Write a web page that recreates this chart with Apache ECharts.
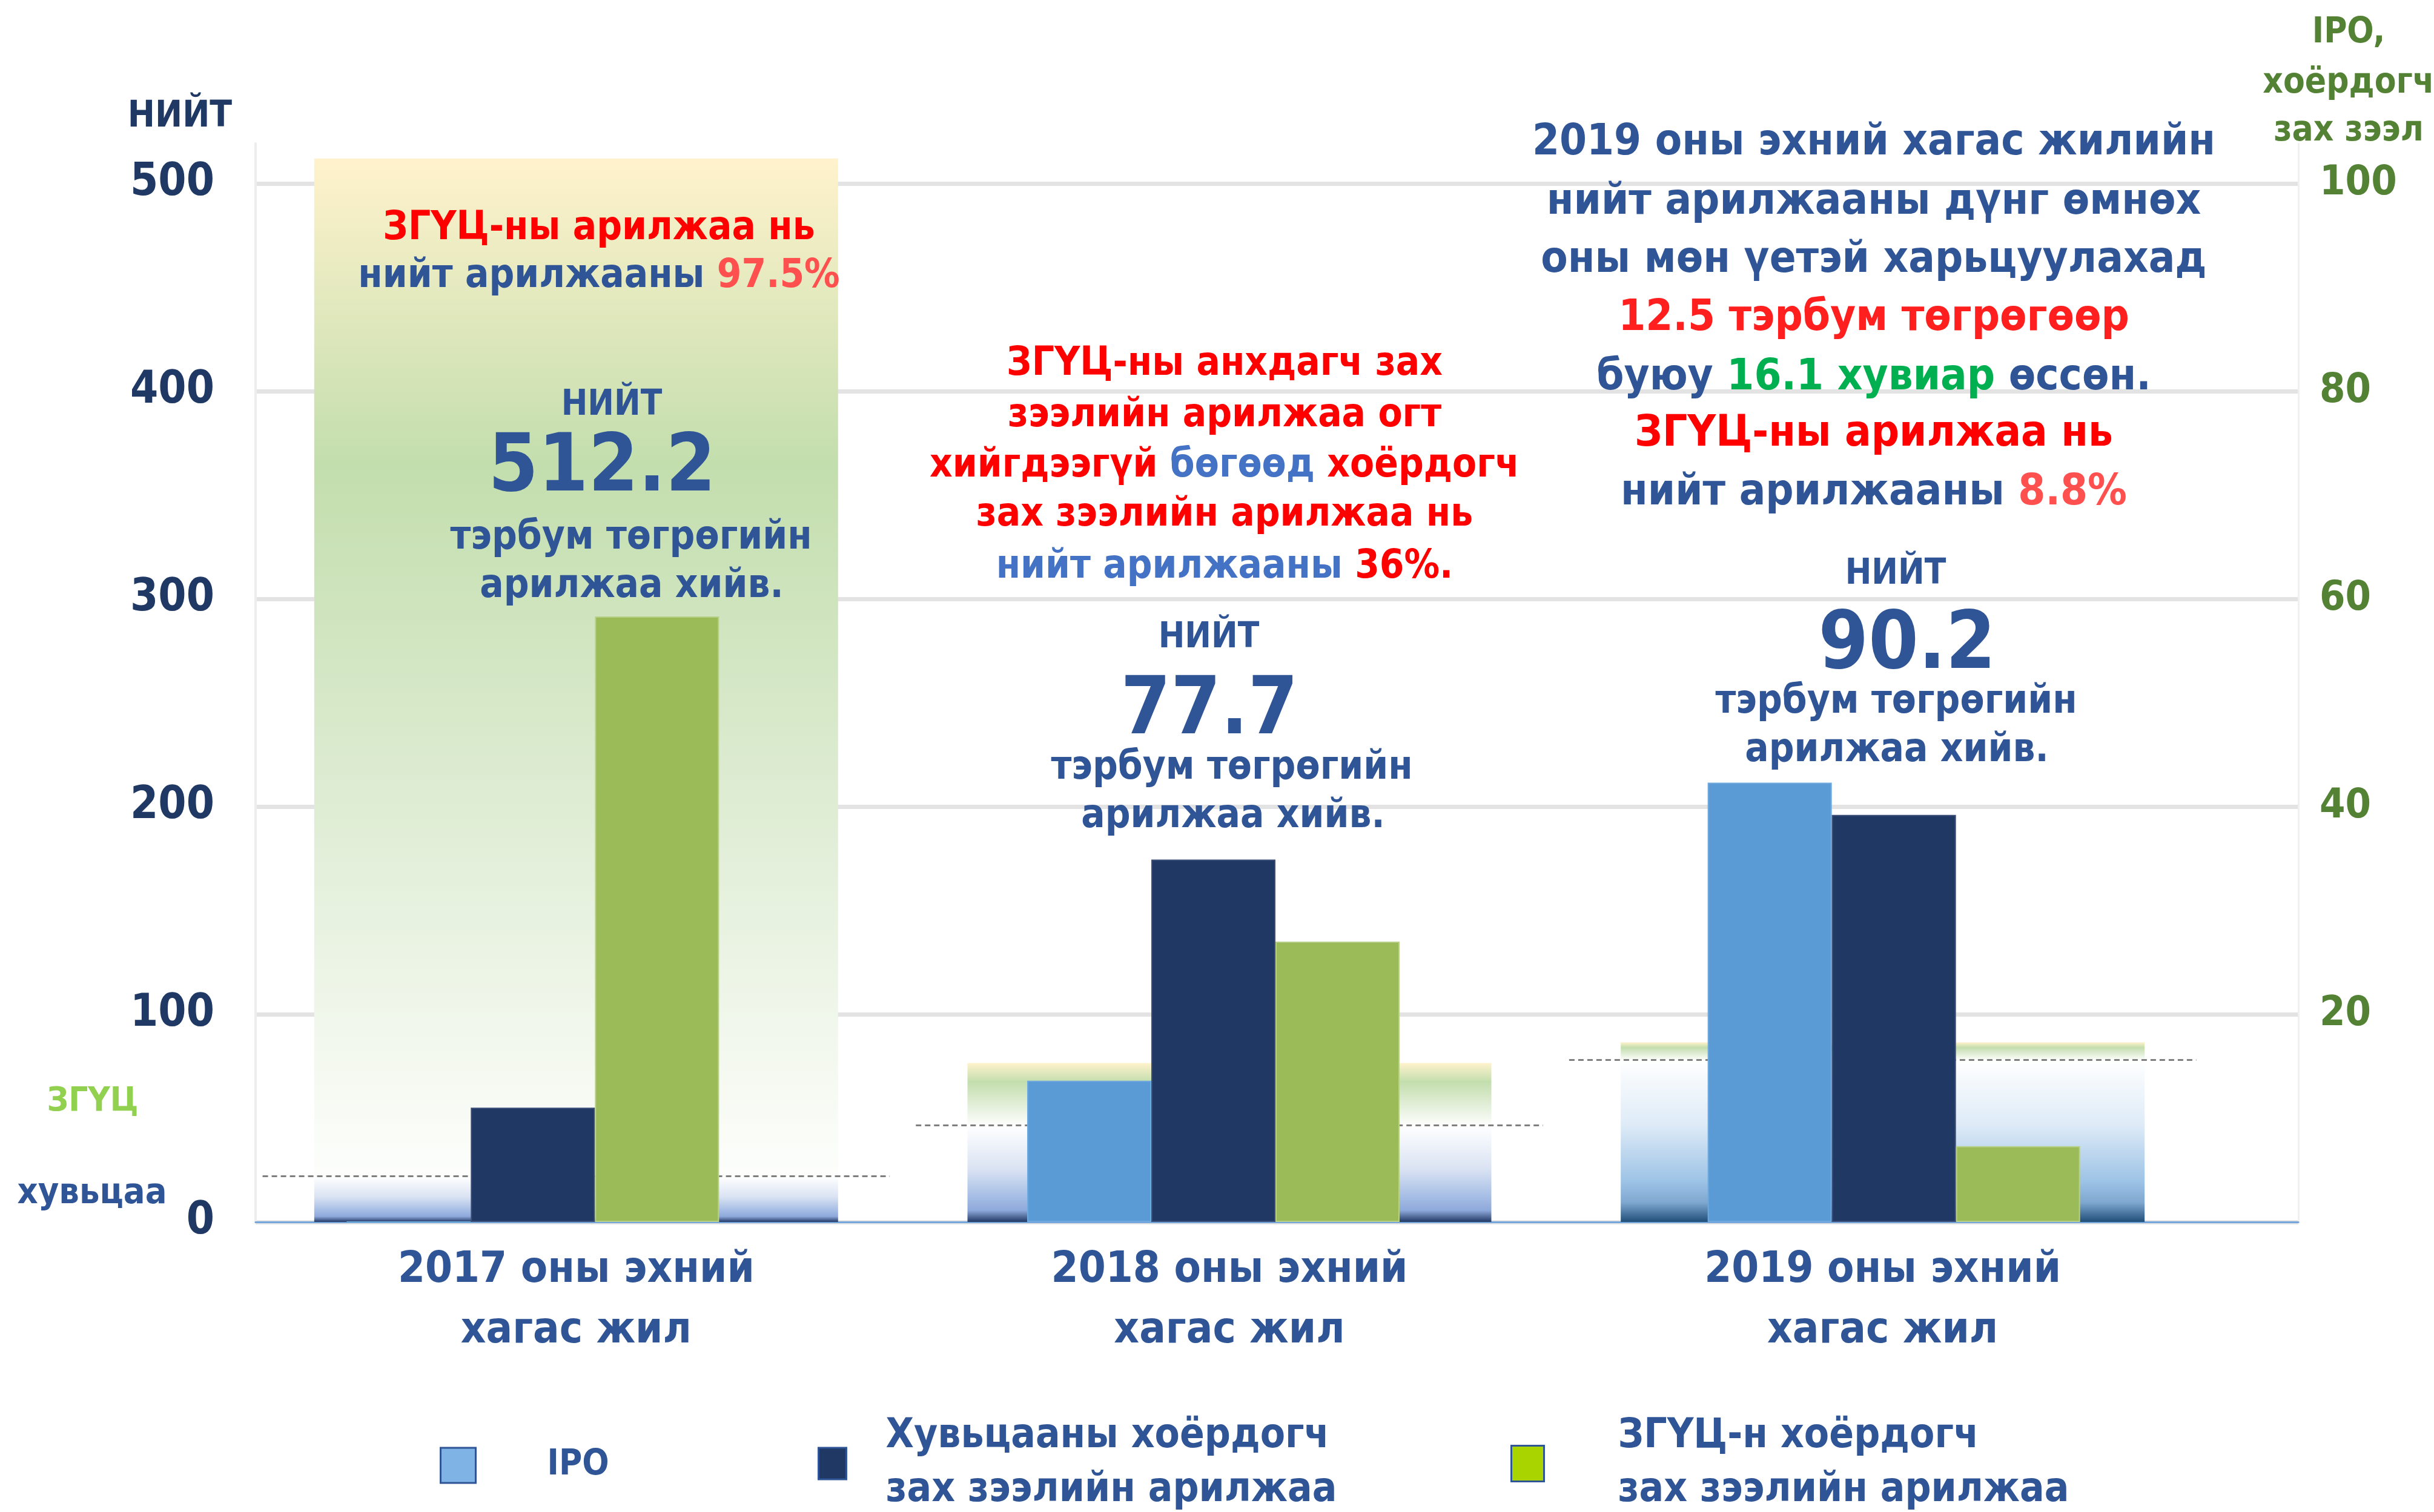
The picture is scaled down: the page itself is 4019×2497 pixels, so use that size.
<!DOCTYPE html>
<html>
<head>
<meta charset="utf-8">
<title>Арилжаа</title>
<script src="https://cdn.jsdelivr.net/npm/echarts@6.0.0/dist/echarts.min.js"></script>
<style>
    html, body { margin: 0; padding: 0; background: #ffffff; }
    #chart { width: 4019px; height: 2497px; }
</style>
</head>
<body>
<div id="chart"></div>
<script>
// ---- data ----
var categories = ['2017 оны эхний\nхагас жил', '2018 оны эхний\nхагас жил', '2019 оны эхний\nхагас жил'];

// bars, right axis (IPO, хоёрдогч зах зээл)
var ipoVals   = [0, 13.6, 42.3];
var shareVals = [11.0, 34.9, 39.2];
var bondVals  = [58.3, 27.0, 7.3];

// background columns, left axis (НИЙТ): lower part = хувьцаа, upper part = ЗГҮЦ
var bgShareVals = [22, 46.5, 78];
var bgBondVals  = [490, 30, 8.5];

var leftMax = 500, leftStep = 100;
var rightMax = 100, rightStep = 20;

var SHARE_NAME = 'Хувьцааны хоёрдогч\nзах зээлийн арилжаа';
var BOND_NAME  = 'ЗГҮЦ-н хоёрдогч\nзах зээлийн арилжаа';

var FONT = "'Liberation Sans Narrow', 'DejaVu Sans Condensed', 'Noto Sans', sans-serif";
var NAVY = '#2F5597', RED = '#FF0000', PINK = '#FF5050', BLUE = '#4472C4', GREEN = '#00B050';

// plot runs a bit above the 500 line
var LEFT_TOP = 519.2;
var RIGHT_TOP = LEFT_TOP * rightMax / leftMax;

function grad(stops) {
    return new echarts.graphic.LinearGradient(0, 0, 0, 1, stops.map(function (s) {
        return {offset: s[0], color: s[1]};
    }));
}

var lowGrad = [
    grad([[0, '#FFFFFF'], [0.45, '#DAE3F3'], [0.75, '#A4BCE4'], [0.88, '#8EA9DB'], [1, '#203864']]),
    grad([[0, '#FFFFFF'], [0.45, '#DAE3F3'], [0.75, '#A4BCE4'], [0.88, '#8EA9DB'], [1, '#203864']]),
    grad([[0, '#FFFFFF'], [0.4, '#DEEBF7'], [0.75, '#9DC3E6'], [0.88, '#7FA8D0'], [1, '#1F4E79']])
];
var highGrad = grad([[0, '#FFF2CC'], [0.3, '#C3DEAD'], [0.6, '#DCEBD0'], [1, '#FDFEFC']]);

// one line of text, parts = [[text, color], ...]
function line(x, y, parts, size) {
    var rich = {};
    var str = '';
    parts.forEach(function (p, i) {
        rich['t' + i] = {fill: p[1], fontSize: size, fontFamily: FONT, fontWeight: 'bold'};
        str += '{t' + i + '|' + p[0] + '}';
    });
    return {
        type: 'text', x: x, y: y, z: 100, silent: true,
        style: {
            text: str, rich: rich,
            font: 'bold ' + size + 'px ' + FONT,
            align: 'center', textAlign: 'center',
            verticalAlign: 'middle', textVerticalAlign: 'middle'
        }
    };
}

var S = 65;    // annotation text size
var S19 = 72;  // 2019 comment size
var BIG = 132; // totals
var NT = 58;   // НИЙТ
var texts = [
    // axis titles
    line(297, 193, [['НИЙТ', '#1F3864']], 60),
    line(3878, 55, [['IPO,', '#548235']], 58),
    line(3878, 138, [['хоёрдогч', '#548235']], 58),
    line(3878, 217, [['зах зээл', '#548235']], 58),
    line(153, 1819, [['ЗГҮЦ', '#92D050']], 56),
    line(152, 1972, [['хувьцаа', NAVY]], 59),

    // 2017
    line(989, 378, [['ЗГҮЦ-ны арилжаа нь', RED]], S),
    line(989, 457, [['нийт арилжааны ', NAVY], ['97.5%', PINK]], S),
    line(1010, 670, [['НИЙТ', NAVY]], NT),
    line(994, 776, [['512.2', NAVY]], BIG),
    line(1042, 889, [['тэрбум төгрөгийн', NAVY]], S),
    line(1043, 969, [['арилжаа хийв.', NAVY]], S),

    // 2018
    line(2022, 602, [['ЗГҮЦ-ны анхдагч зах', RED]], S),
    line(2022, 687, [['зээлийн арилжаа огт', RED]], S),
    line(2022, 770, [['хийгдээгүй ', RED], ['бөгөөд', BLUE], [' хоёрдогч', RED]], S),
    line(2022, 851, [['зах зээлийн арилжаа нь', RED]], S),
    line(2022, 937, [['нийт арилжааны ', BLUE], ['36%.', RED]], S),
    line(1996, 1054, [['НИЙТ', NAVY]], NT),
    line(1997, 1177, [['77.7', NAVY]], BIG),
    line(2034, 1269, [['тэрбум төгрөгийн', NAVY]], S),
    line(2036, 1349, [['арилжаа хийв.', NAVY]], S),

    // 2019
    line(3094, 236, [['2019 оны эхний хагас жилийн', NAVY]], S19),
    line(3094, 334, [['нийт арилжааны дүнг өмнөх', NAVY]], S19),
    line(3094, 430, [['оны мөн үетэй харьцуулахад', NAVY]], S19),
    line(3094, 526, [['12.5 тэрбум төгрөгөөр', '#FF1F1F']], S19),
    line(3094, 624, [['буюу ', NAVY], ['16.1 хувиар', GREEN], [' өссөн.', NAVY]], S19),
    line(3094, 717, [['ЗГҮЦ-ны арилжаа нь', RED]], S19),
    line(3094, 814, [['нийт арилжааны ', NAVY], ['8.8%', PINK]], S19),
    line(3130, 949, [['НИЙТ', NAVY]], NT),
    line(3149, 1069, [['90.2', NAVY]], BIG),
    line(3131, 1160, [['тэрбум төгрөгийн', NAVY]], S),
    line(3132, 1240, [['арилжаа хийв.', NAVY]], S)
];

var legendText = {color: NAVY, fontWeight: 'bold', fontFamily: FONT};

var option = {
    backgroundColor: '#ffffff',
    animation: false,
    grid: [
        // axes and grid lines
        {left: 422, right: 224, top: 237, bottom: 479, outerBoundsMode: 'none'},
        // bars
        {left: 318, width: 3371, top: 237, bottom: 479, outerBoundsMode: 'none'},
        // background columns and category labels
        {left: 412, width: 3236, top: 237, bottom: 479, outerBoundsMode: 'none'}
    ],
    xAxis: [
        {
            gridIndex: 0, type: 'category', data: categories,
            axisLine: {show: true, lineStyle: {color: '#74A6DC', width: 3}},
            axisTick: {show: false}, axisLabel: {show: false}, splitLine: {show: false}
        },
        {gridIndex: 1, type: 'category', data: categories, show: false},
        {
            gridIndex: 2, type: 'category', data: categories,
            axisLine: {show: false}, axisTick: {show: false}, splitLine: {show: false},
            axisLabel: {
                color: NAVY, fontSize: 72, fontWeight: 'bold', fontFamily: FONT,
                lineHeight: 100, margin: 30, interval: 0
            }
        }
    ],
    yAxis: [
        {
            gridIndex: 0, type: 'value', position: 'left',
            min: 0, max: LEFT_TOP, interval: leftStep,
            axisLine: {show: true, lineStyle: {color: '#EDEDED', width: 4}},
            axisTick: {show: false},
            axisLabel: {
                showMaxLabel: false, color: '#1F3864', fontSize: 74,
                fontWeight: 'bold', fontFamily: FONT, margin: 68
            },
            splitLine: {show: true, showMaxLine: false, lineStyle: {color: '#E3E3E3', width: 7}}
        },
        {
            gridIndex: 0, type: 'value', position: 'right',
            min: 0, max: RIGHT_TOP, interval: rightStep,
            axisLine: {show: true, lineStyle: {color: '#F0F0F0', width: 3}},
            axisTick: {show: false},
            axisLabel: {
                showMinLabel: false, showMaxLabel: false, color: '#548235',
                fontSize: 68, fontWeight: 'bold', fontFamily: FONT, margin: 35
            },
            splitLine: {show: false}
        },
        {gridIndex: 1, type: 'value', min: 0, max: RIGHT_TOP, show: false},
        {gridIndex: 2, type: 'value', min: 0, max: LEFT_TOP, show: false}
    ],
    legend: [
        {
            data: [{name: 'IPO', itemStyle: {color: '#7FB2E5', borderColor: NAVY, borderWidth: 3}}],
            left: 726, top: 2384, padding: 0, icon: 'rect', itemWidth: 58, itemHeight: 58,
            selectedMode: false,
            textStyle: Object.assign({fontSize: 58, lineHeight: 72, padding: [0, 0, 0, 113]}, legendText)
        },
        {
            data: [{name: SHARE_NAME, itemStyle: {color: '#203864', borderColor: NAVY, borderWidth: 3}}],
            left: 1350, top: 2328, padding: 0, icon: 'rect', itemWidth: 46, itemHeight: 52,
            selectedMode: false,
            textStyle: Object.assign({fontSize: 67, lineHeight: 89, padding: [0, 0, 0, 60]}, legendText)
        },
        {
            data: [{name: BOND_NAME, itemStyle: {color: '#A9D400', borderColor: NAVY, borderWidth: 3}}],
            left: 2494, top: 2328, padding: 0, icon: 'rect', itemWidth: 54, itemHeight: 59,
            selectedMode: false,
            textStyle: Object.assign({fontSize: 67, lineHeight: 89, padding: [0, 0, 0, 117]}, legendText)
        }
    ],
    series: [
        {
            name: 'хувьцаа', type: 'bar', xAxisIndex: 2, yAxisIndex: 3, stack: 'bg',
            barWidth: 865, z: 1, silent: true,
            data: bgShareVals.map(function (v, i) {
                return {value: v, itemStyle: {color: lowGrad[i]}};
            })
        },
        {
            name: 'ЗГҮЦ', type: 'bar', xAxisIndex: 2, yAxisIndex: 3, stack: 'bg',
            barWidth: 865, z: 1, silent: true,
            itemStyle: {color: highGrad},
            data: bgBondVals
        },
        {
            name: 'split', type: 'custom', xAxisIndex: 2, yAxisIndex: 3, z: 2, silent: true,
            data: bgShareVals.map(function (v, i) { return [i, v]; }),
            renderItem: function (params, api) {
                var p = api.coord([api.value(0), api.value(1)]);
                var bw = api.size([1, 0])[0];
                return {
                    type: 'line',
                    shape: {x1: p[0] - bw * 0.48, y1: p[1], x2: p[0] + bw * 0.48, y2: p[1]},
                    style: {stroke: '#7F7F7F', lineWidth: 3, lineDash: [9, 6]}
                };
            }
        },
        {
            name: 'IPO', type: 'bar', xAxisIndex: 1, yAxisIndex: 2,
            barWidth: 205, barGap: '0%', z: 3,
            itemStyle: {color: '#5B9BD5', borderColor: '#6FA9DE', borderWidth: 2},
            data: ipoVals
        },
        {
            name: SHARE_NAME, type: 'bar', xAxisIndex: 1, yAxisIndex: 2,
            barWidth: 205, barGap: '0%', z: 3,
            itemStyle: {color: '#203864', borderColor: '#3B4E78', borderWidth: 2},
            data: shareVals
        },
        {
            name: BOND_NAME, type: 'bar', xAxisIndex: 1, yAxisIndex: 2,
            barWidth: 205, barGap: '0%', z: 3,
            itemStyle: {color: '#9BBB59', borderColor: '#B9D08A', borderWidth: 2},
            data: bondVals
        }
    ],
    graphic: {elements: texts}
};

var chart = echarts.init(document.getElementById('chart'));
chart.setOption(option);
</script>
</body>
</html>
